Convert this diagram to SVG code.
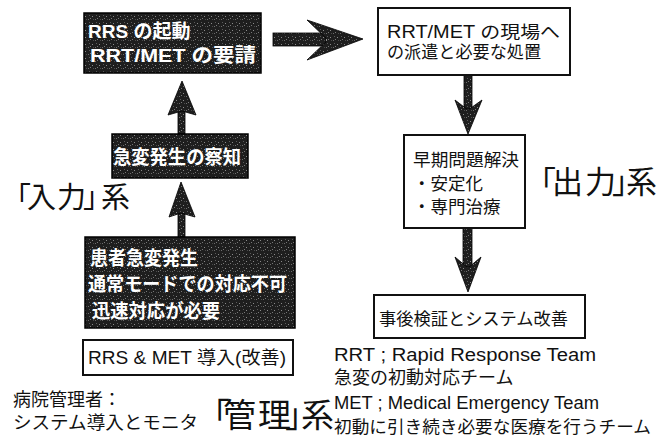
<svg xmlns="http://www.w3.org/2000/svg" width="657" height="437" viewBox="0 0 657 437">
<defs>
<pattern id="speck" width="7" height="7" patternUnits="userSpaceOnUse">
<rect width="7" height="7" fill="#1e1e1e"/>
<rect x="1" y="2" width="1" height="1" fill="#8a8a8a"/>
<rect x="4" y="5" width="1" height="1" fill="#6e6e6e"/>
<rect x="5" y="1" width="1" height="1" fill="#5a5a5a"/>
<rect x="2" y="5" width="1" height="1" fill="#4a4a4a"/>
<rect x="6" y="4" width="1" height="1" fill="#777"/>
</pattern>
<style>
.dark{fill:url(#speck);stroke:#000;stroke-width:1.5}
.box{fill:#fff;stroke:#111;stroke-width:2}
.arrow{fill:url(#speck);stroke:#000;stroke-width:0.8}
text{font-family:"Liberation Sans","Noto Sans CJK JP",sans-serif;fill:#111}
.wt{fill:#fff;font-weight:bold;font-size:19px}
.t{font-size:17.5px}
.big{font-family:"Noto Sans CJK JP",sans-serif}
</style>
</defs>
<rect width="657" height="437" fill="#fff"/>
<g id="connectors">
<g id="a1">
<rect class="arrow" x="178" y="105" width="7" height="29"/>
<polygon class="arrow" points="182,81 196,115 182,111 168,115"/>
</g>
<g id="a2">
<rect class="arrow" x="178" y="206" width="7" height="31"/>
<polygon class="arrow" points="181,182 195,217 181,213 169,217"/>
</g>
<g id="a3">
<rect class="arrow" x="273" y="33" width="53" height="13"/>
<polygon class="arrow" points="307,20 363,39 307,60 328,40"/>
</g>
<g id="a4">
<rect class="arrow" x="464" y="75" width="8" height="34"/>
<polygon class="arrow" points="455,100 468,110 482,100 468,134"/>
</g>
<g id="a5">
<rect class="arrow" x="463" y="228" width="9" height="39"/>
<polygon class="arrow" points="455,257 468,268 481,257 468,292"/>
</g>
</g>
<g id="n1">
<rect class="dark" x="84" y="13" width="177" height="60"/>
<text class="wt" x="88" y="38">RRS の起動</text>
<text class="wt" x="90" y="62" textLength="166" lengthAdjust="spacingAndGlyphs">RRT/MET の要請</text>
</g>
<g id="n2">
<rect class="dark" x="112" y="134" width="136" height="44"/>
<text class="wt" x="113" y="164" textLength="128" lengthAdjust="spacingAndGlyphs">急変発生の察知</text>
</g>
<g id="n3">
<rect class="dark" x="85" y="237" width="210" height="91"/>
<text class="wt" x="90" y="265" textLength="108" lengthAdjust="spacingAndGlyphs">患者急変発生</text>
<text class="wt" x="88" y="291" textLength="199" lengthAdjust="spacingAndGlyphs">通常モードでの対応不可</text>
<text class="wt" x="92" y="318" textLength="128" lengthAdjust="spacingAndGlyphs">迅速対応が必要</text>
</g>
<g id="n4">
<rect class="box" x="83" y="340" width="210" height="35"/>
<text class="t" x="88" y="364" style="font-size:18px" textLength="198" lengthAdjust="spacingAndGlyphs">RRS &amp; MET 導入(改善)</text>
</g>
<g id="n5">
<rect class="box" x="378" y="8" width="192" height="67"/>
<text class="t" x="387" y="38" textLength="173" lengthAdjust="spacingAndGlyphs">RRT/MET の現場へ</text>
<text class="t" x="387" y="58" textLength="154" lengthAdjust="spacingAndGlyphs">の派遣と必要な処置</text>
</g>
<g id="n6">
<rect class="box" x="404" y="135" width="121" height="93"/>
<text class="t" x="413" y="166" textLength="106" lengthAdjust="spacingAndGlyphs">早期問題解決</text>
<text class="t" x="413" y="190">・安定化</text>
<text class="t" x="413" y="213">・専門治療</text>
</g>
<g id="n7">
<rect class="box" x="374" y="295" width="211" height="43"/>
<text class="t" x="379" y="325" textLength="189" lengthAdjust="spacingAndGlyphs">事後検証とシステム改善</text>
</g>
<g id="labels">
<text class="big" x="2 27 57 83 101" y="208" style="font-size:29px">「入力」系</text>
<text class="big" x="525 552 585 612 626" y="193" style="font-size:31px">「出力」系</text>
<text class="big" x="197 223 258 285 301" y="427" style="font-size:33px">「管理」系</text>
<text class="t" x="13" y="406" style="font-size:18px">病院管理者：</text>
<text class="t" x="13" y="429" style="font-size:18px" textLength="185" lengthAdjust="spacingAndGlyphs">システム導入とモニタ</text>
</g>
<g id="legend">
<text class="t" x="334" y="361" textLength="262" lengthAdjust="spacingAndGlyphs">RRT ; Rapid Response Team</text>
<text class="t" x="334" y="384" style="font-size:18px">急変の初動対応チーム</text>
<text class="t" x="334" y="409" textLength="265" lengthAdjust="spacingAndGlyphs">MET ; Medical Emergency Team</text>
<text class="t" x="334" y="433" textLength="317" lengthAdjust="spacingAndGlyphs">初動に引き続き必要な医療を行うチーム</text>
</g>
</svg>
